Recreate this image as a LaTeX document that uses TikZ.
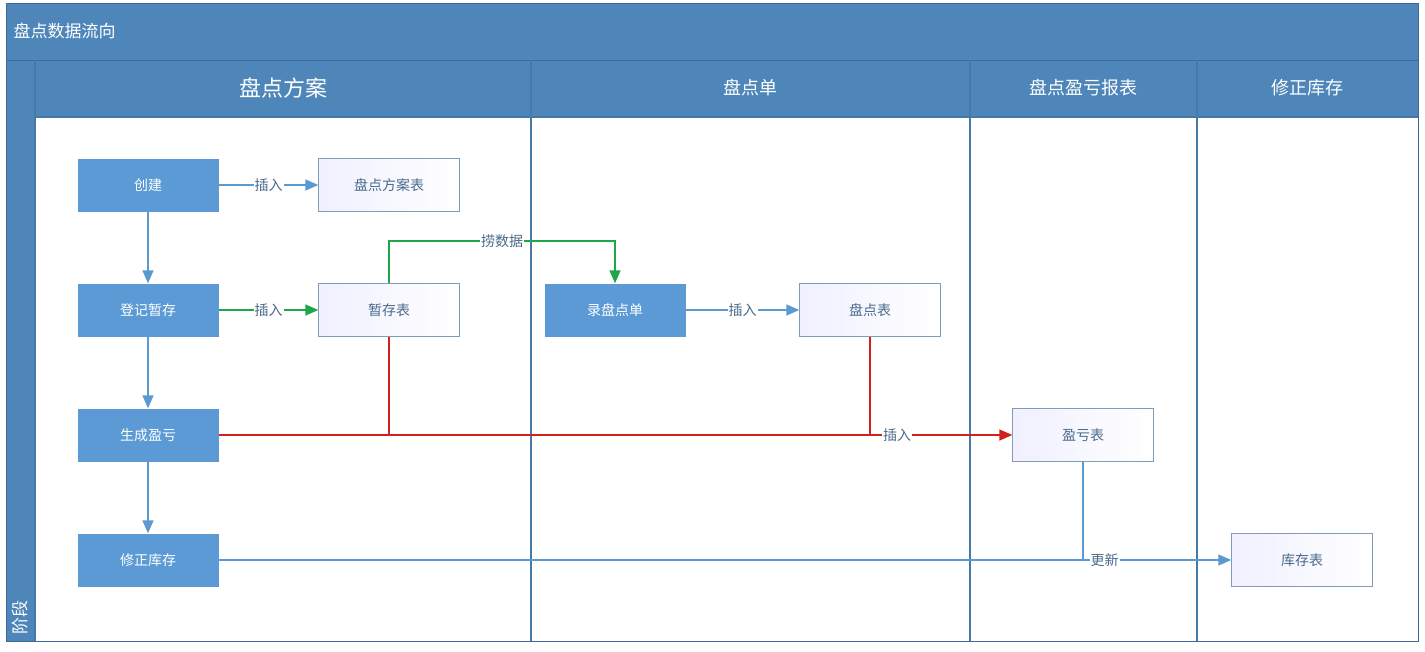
\documentclass[tikz,border=0pt]{standalone}
\usepackage{fontspec}
\setmainfont{Noto Sans CJK SC}
\usetikzlibrary{arrows.meta}
\definecolor{band}{HTML}{4E86BA}
\definecolor{nodeblue}{HTML}{5B9AD5}
\definecolor{linkblue}{HTML}{5B9AD0}
\definecolor{boxline}{HTML}{7F9DB9}
\definecolor{gline}{HTML}{1EA64A}
\definecolor{rline}{HTML}{D21F1F}
\definecolor{txt}{HTML}{4A6A8A}
\begin{document}
\begin{tikzpicture}[x=1pt,y=-1pt]
  \tikzstyle{task}=[minimum width=141pt,minimum height=53pt,fill=nodeblue,text=white,font=\fontsize{14}{16}\selectfont,inner sep=0pt]
  \tikzstyle{table}=[minimum width=141pt,minimum height=53pt,draw=boxline,left color=white!94!blue,right color=white,text=txt,font=\fontsize{14}{16}\selectfont,inner sep=0pt]
  \tikzstyle{flow}=[draw=linkblue,line width=1.5pt,-{Triangle[length=13pt,width=11pt]}]
  \tikzstyle{lbl}=[fill=white,inner sep=1pt,text=txt,font=\fontsize{14}{16}\selectfont]
  \tikzstyle{head}=[text=white,font=\fontsize{18}{22}\selectfont]
  \useasboundingbox (0,0) rectangle (1425,651);
  % frame and bands
  \fill[band] (6,3) rectangle (1418,117);
  \fill[band] (6,60) rectangle (35,641);
  \draw[band!80!black,line width=1pt] (6,3) rectangle (1418,641);
  \draw[band!80!black] (6,60) -- (1418,60);
  \foreach \x in {531,970,1197} \draw[band!90!black,line width=1.3pt] (\x,60) -- (\x,641);
  \draw[band!90!black,line width=1.3pt] (35,117) -- (1418,117) (35,60) -- (35,641);
  \node[text=white,anchor=west,font=\fontsize{17}{20}\selectfont] (title) at (10,31) {盘点数据流向};
  \node[text=white,rotate=90,anchor=west,font=\fontsize{17}{20}\selectfont] (stage) at (20,638) {阶段};
  \node[head,font=\fontsize{22}{26}\selectfont] (h1) at (283,88) {盘点方案};
  \node[head] (h2) at (750,88) {盘点单};
  \node[head] (h3) at (1083,88) {盘点盈亏报表};
  \node[head] (h4) at (1307,88) {修正库存};
  % nodes
  \node[task] (create) at (148,185) {创建};
  \node[task] (save) at (148,310) {登记暂存};
  \node[task] (profit) at (148,435) {生成盈亏};
  \node[task] (fix) at (148,560) {修正库存};
  \node[table] (plantab) at (389,185) {盘点方案表};
  \node[table] (temptab) at (389,310) {暂存表};
  \node[task] (entry) at (615,310) {录盘点单};
  \node[table] (counttab) at (870,310) {盘点表};
  \node[table] (pltab) at (1083,435) {盈亏表};
  \node[table] (stocktab) at (1302,560) {库存表};
  % connectors
  \draw[flow] (create) -- node[lbl] {插入} (plantab);
  \draw[flow] (create) -- (save);
  \draw[flow] (save) -- (profit);
  \draw[flow] (profit) -- (fix);
  \draw[flow,color=gline] (save) -- node[lbl] {插入} (temptab);
  \draw[flow,color=gline] (temptab.north) |- node[lbl,pos=0.75] {捞数据} (615,241) -- (entry.north);
  \draw[flow] (entry) -- node[lbl] {插入} (counttab);
  \draw[flow,color=rline] (profit) -- node[lbl,pos=0.855] {插入} (pltab);
  \draw[rline,line width=1.5pt] (temptab.south) -- (389,435);
  \draw[rline,line width=1.5pt] (counttab.south) -- (870,435);
  \draw[flow] (fix) -- node[lbl,pos=0.875] {更新} (stocktab);
  \draw[linkblue,line width=1.5pt] (pltab.south) -- (1083,560);
\end{tikzpicture}
\end{document}
